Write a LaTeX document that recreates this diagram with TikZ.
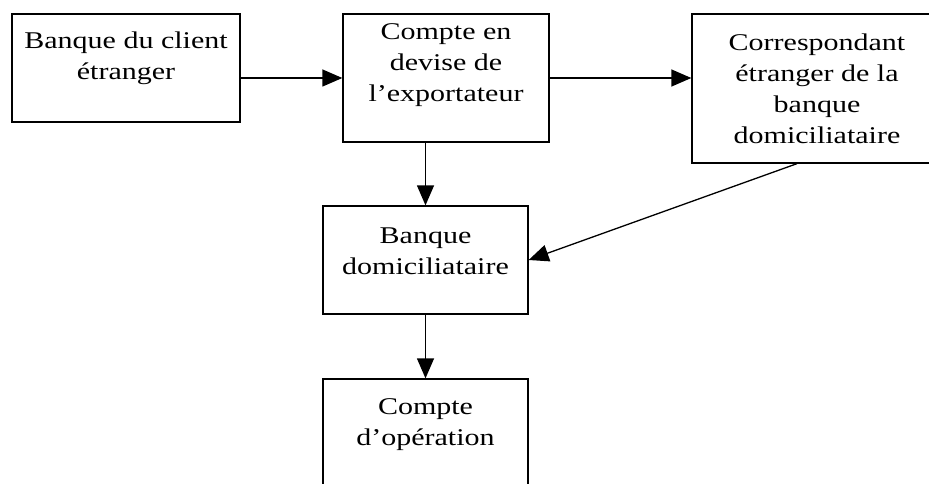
\documentclass[tikz,border=0pt]{standalone}
\usepackage{fontspec}
\setmainfont[FakeStretch=1.25]{Liberation Serif}
\usetikzlibrary{arrows.meta,positioning}

\begin{document}
\begin{tikzpicture}[x=1pt,y=-1pt,
  boite/.style={draw,line width=1.3pt,inner sep=0pt},
  texte/.style={align=center,inner sep=0pt,font=\fontsize{24}{31}\selectfont},
  fleche/.style={-{Triangle[length=20pt,width=17pt]},line width=1.3pt}]
\clip (0,0) rectangle (929,484);

% les cadres
\node[boite,minimum width=228,minimum height=108] (client) at (126,68) {};
\node[boite,minimum width=206,minimum height=128] (devise) at (446,78) {};
\node[boite,minimum width=250,minimum height=149] (corresp) at (817,88.5) {};
\node[boite,minimum width=205,minimum height=108] (banque) at (425.5,260) {};
\node[boite,minimum width=205,minimum height=115] (operation) at (425.5,436.5) {};

% les textes
\node[texte,below=18.6pt of client.north] (t-client) {Banque du client\\étranger};
\node[texte,below=9.6pt of devise.north] (t-devise) {Compte en\\devise de\\l’exportateur};
\node[texte,below=20.6pt of corresp.north] (t-corresp) {Correspondant\\étranger de la\\banque\\domiciliataire};
\node[texte,below=22.6pt of banque.north] (t-banque) {Banque\\domiciliataire};
\node[texte,below=19.6pt of operation.north] (t-operation) {Compte\\d’opération};

% les fleches
\coordinate (depart) at ([xshift=-20pt]corresp.south);
\draw[fleche] (client.east |- devise.west) -- (devise.west);
\draw[fleche] (devise.east) -- (devise.east -| corresp.west);
\draw[fleche] (banque.north |- devise.south) -- (banque.north);
\draw[fleche] (depart) -- (banque.east);
\draw[fleche] (banque.south) -- (operation.north);
\end{tikzpicture}
\end{document}
